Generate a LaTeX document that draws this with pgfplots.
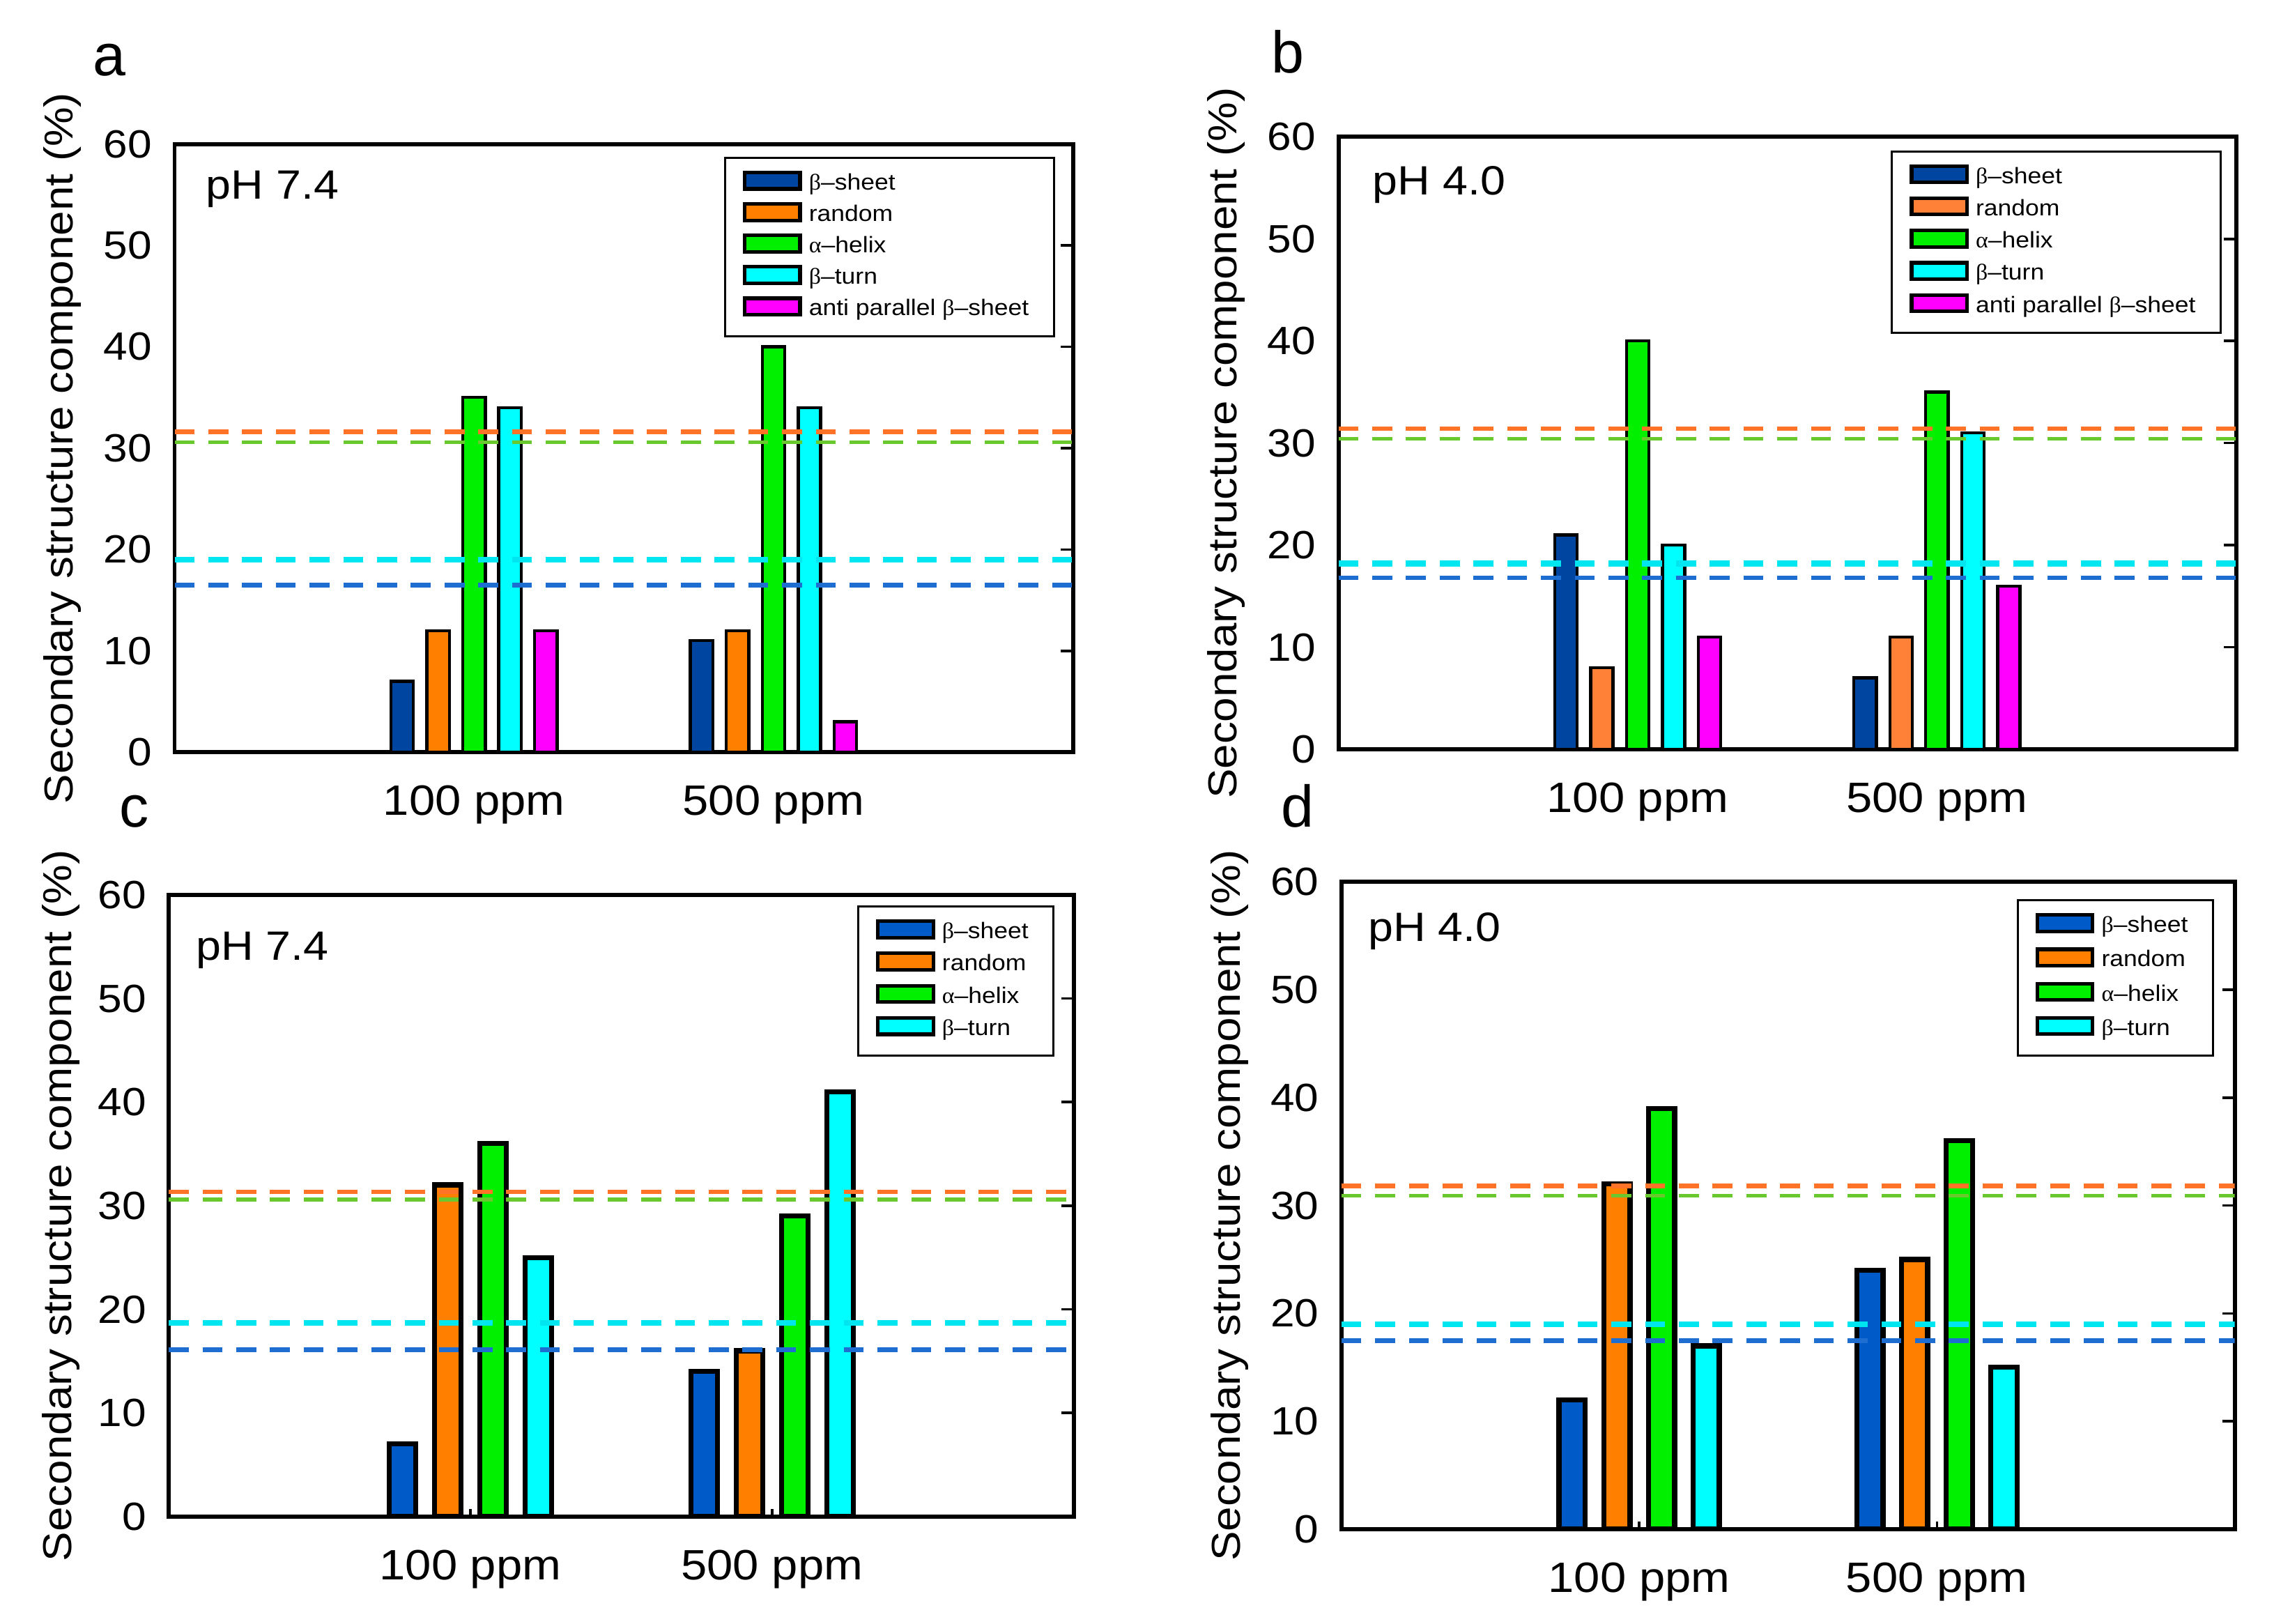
\documentclass[border=0pt]{standalone}
\usepackage{fontspec}
\setmainfont{Liberation Sans}[FakeStretch=1.1]
\newfontfamily\plainsans{Liberation Sans}
\newfontfamily\grk{Liberation Serif}[FakeStretch=1.05]
\usepackage{pgfplots}
\pgfplotsset{compat=1.18}

\definecolor{bsA}{RGB}{0,70,160}
\definecolor{bsC}{RGB}{0,90,200}
\definecolor{rnA}{RGB}{255,128,0}
\definecolor{rnB}{RGB}{255,128,55}
\definecolor{ah}{RGB}{0,240,0}
\definecolor{bt}{RGB}{0,255,255}
\definecolor{ap}{RGB}{255,0,255}
\definecolor{dOr}{RGB}{255,115,40}
\definecolor{dGr}{RGB}{105,200,45}
\definecolor{dCy}{RGB}{0,230,240}
\definecolor{dBl}{RGB}{30,110,210}

\tikzset{phl/.style={anchor=west, inner sep=0pt, font=\fontsize{8.0}{9.6}\selectfont}}
\pgfplotsset{
  panel/.style={
    scale only axis, anchor=south west,
    xmin=0, xmax=3, ymin=0, ymax=60,
    xtick={1,2}, xticklabels={100 ppm,500 ppm},
    ytick={0,10,...,60},
    xtick pos=bottom, ytick pos=right, yticklabel pos=left,
    tick align=inside,
    major tick length=2.4pt,
    xtick style={black, line width=0.5pt, /pgfplots/major tick length=1.5pt},
    ytick style={black, line width=0.5pt},
    axis line style={line width=0.8pt, black},
    /pgf/number format/assume math mode=true,
    yticklabel style={font=\fontsize{7.7}{9.2}\selectfont, xshift=-0.9pt},
    xticklabel style={font=\fontsize{8.3}{10}\selectfont, yshift=-3pt},
    ylabel={Secondary structure component (\%)},
    ylabel style={font=\fontsize{7.9}{9.5}\selectfont, anchor=center},
    legend image code/.code={\draw[##1,/tikz/.cd,line width=0.7pt,draw=black] (0pt,0.2pt) rectangle (10.8pt,3.4pt);},
    legend style={anchor=north east, draw=black, line width=0.45pt, fill=white,
      font=\fontsize{4.4}{5.3}\selectfont, inner xsep=3.5pt, inner ysep=2.5pt,
      cells={anchor=base west},
      nodes={inner xsep=1.4pt, inner ysep=0.5pt, text height=3.2pt, text depth=1pt}},
  },
  barA/.style={ybar, bar width=0.075, draw=black, line width=0.6pt},
  barC/.style={ybar, bar width=0.088, draw=black, line width=1pt},
  dl/.style={forget plot, dash pattern=on 3.9pt off 2.7pt},
  dO/.style={dl, dOr, line width=0.9pt},
  dG/.style={dl, dGr, line width=0.7pt},
  dC/.style={dl, dCy, line width=1.15pt},
  dB/.style={dl, dBl, line width=0.95pt},
}

\begin{document}
\begin{tikzpicture}
\useasboundingbox (0,0) rectangle (15.63,11.161);

% ---------- panel a ----------
\begin{axis}[panel, at={(1.20cm,5.991cm)}, width=6.175cm, height=4.18cm,
  ylabel style={at={(axis description cs:-0.125,0.5)}},
  legend style={at={(0.980,0.979)}, row sep=0.9pt}]
\addplot[barA, fill=bsA, bar shift=-0.24] coordinates {(1,7) (2,11)};
\addplot[barA, fill=rnA, bar shift=-0.12] coordinates {(1,12) (2,12)};
\addplot[barA, fill=ah, bar shift=0] coordinates {(1,35) (2,40)};
\addplot[barA, fill=bt, bar shift=0.12] coordinates {(1,34) (2,34)};
\addplot[barA, fill=ap, bar shift=0.24] coordinates {(1,12) (2,3)};
\addplot[dO] coordinates {(0,31.6) (3,31.6)};
\addplot[dG] coordinates {(0,30.6) (3,30.6)};
\addplot[dC] coordinates {(0,19.0) (3,19.0)};
\addplot[dB] coordinates {(0,16.5) (3,16.5)};
\legend{{\grk β}–sheet, random, {\grk α}–helix, {\grk β}–turn, anti parallel {\grk β}–sheet}
\node[phl] at (rel axis cs:0.034,0.926) {pH 7.4};
\end{axis}

% ---------- panel b ----------
\begin{axis}[panel, at={(9.20cm,6.011cm)}, width=6.17cm, height=4.21cm,
  ylabel style={at={(axis description cs:-0.125,0.5)}},
  legend style={at={(0.984,0.978)}, row sep=1.06pt}]
\addplot[barA, fill=bsA, bar shift=-0.24] coordinates {(1,21) (2,7)};
\addplot[barA, fill=rnB, bar shift=-0.12] coordinates {(1,8) (2,11)};
\addplot[barA, fill=ah, bar shift=0] coordinates {(1,40) (2,35)};
\addplot[barA, fill=bt, bar shift=0.12] coordinates {(1,20) (2,31)};
\addplot[barA, fill=ap, bar shift=0.24] coordinates {(1,11) (2,16)};
\addplot[dO] coordinates {(0,31.4) (3,31.4)};
\addplot[dG] coordinates {(0,30.4) (3,30.4)};
\addplot[dC] coordinates {(0,18.2) (3,18.2)};
\addplot[dB] coordinates {(0,16.8) (3,16.8)};
\legend{{\grk β}–sheet, random, {\grk α}–helix, {\grk β}–turn, anti parallel {\grk β}–sheet}
\node[phl] at (rel axis cs:0.037,0.922) {pH 4.0};
\end{axis}

% ---------- panel c ----------
\begin{axis}[panel, at={(1.16cm,0.738cm)}, width=6.22cm, height=4.273cm,
  ylabel style={at={(axis description cs:-0.119,0.5)}},
  legend style={at={(0.979,0.983)}, row sep=1.06pt}]
\addplot[barC, fill=bsC, bar shift=-0.225] coordinates {(1,7) (2,14)};
\addplot[barC, fill=rnA, bar shift=-0.075] coordinates {(1,32) (2,16)};
\addplot[barC, fill=ah, bar shift=0.075] coordinates {(1,36) (2,29)};
\addplot[barC, fill=bt, bar shift=0.225] coordinates {(1,25) (2,41)};
\addplot[dO] coordinates {(0,31.35) (3,31.35)};
\addplot[dG] coordinates {(0,30.6) (3,30.6)};
\addplot[dC] coordinates {(0,18.7) (3,18.7)};
\addplot[dB] coordinates {(0,16.1) (3,16.1)};
\legend{{\grk β}–sheet, random, {\grk α}–helix, {\grk β}–turn}
\node[phl] at (rel axis cs:0.029,0.911) {pH 7.4};
\end{axis}

% ---------- panel d ----------
\begin{axis}[panel, at={(9.22cm,0.651cm)}, width=6.14cm, height=4.45cm,
  ylabel style={at={(axis description cs:-0.125,0.5)}},
  legend style={at={(0.977,0.973)}, row sep=1.46pt}]
\addplot[barC, fill=bsC, bar shift=-0.225] coordinates {(1,12) (2,24)};
\addplot[barC, fill=rnA, bar shift=-0.075] coordinates {(1,32) (2,25)};
\addplot[barC, fill=ah, bar shift=0.075] coordinates {(1,39) (2,36)};
\addplot[barC, fill=bt, bar shift=0.225] coordinates {(1,17) (2,15)};
\addplot[dO] coordinates {(0,31.8) (3,31.8)};
\addplot[dG] coordinates {(0,30.9) (3,30.9)};
\addplot[dC] coordinates {(0,19.0) (3,19.0)};
\addplot[dB] coordinates {(0,17.5) (3,17.5)};
\legend{{\grk β}–sheet, random, {\grk α}–helix, {\grk β}–turn}
\node[phl] at (rel axis cs:0.029,0.924) {pH 4.0};
\end{axis}

\node[font=\plainsans\fontsize{11.5}{13}\selectfont, anchor=base] at (0.753,10.643) {a};
\node[font=\plainsans\fontsize{11.5}{13}\selectfont, anchor=base] at (8.854,10.661) {b};
\node[font=\plainsans\fontsize{11.5}{13}\selectfont, anchor=base] at (0.922,5.475) {c};
\node[font=\plainsans\fontsize{11.5}{13}\selectfont, anchor=base] at (8.920,5.475) {d};
\end{tikzpicture}
\end{document}
